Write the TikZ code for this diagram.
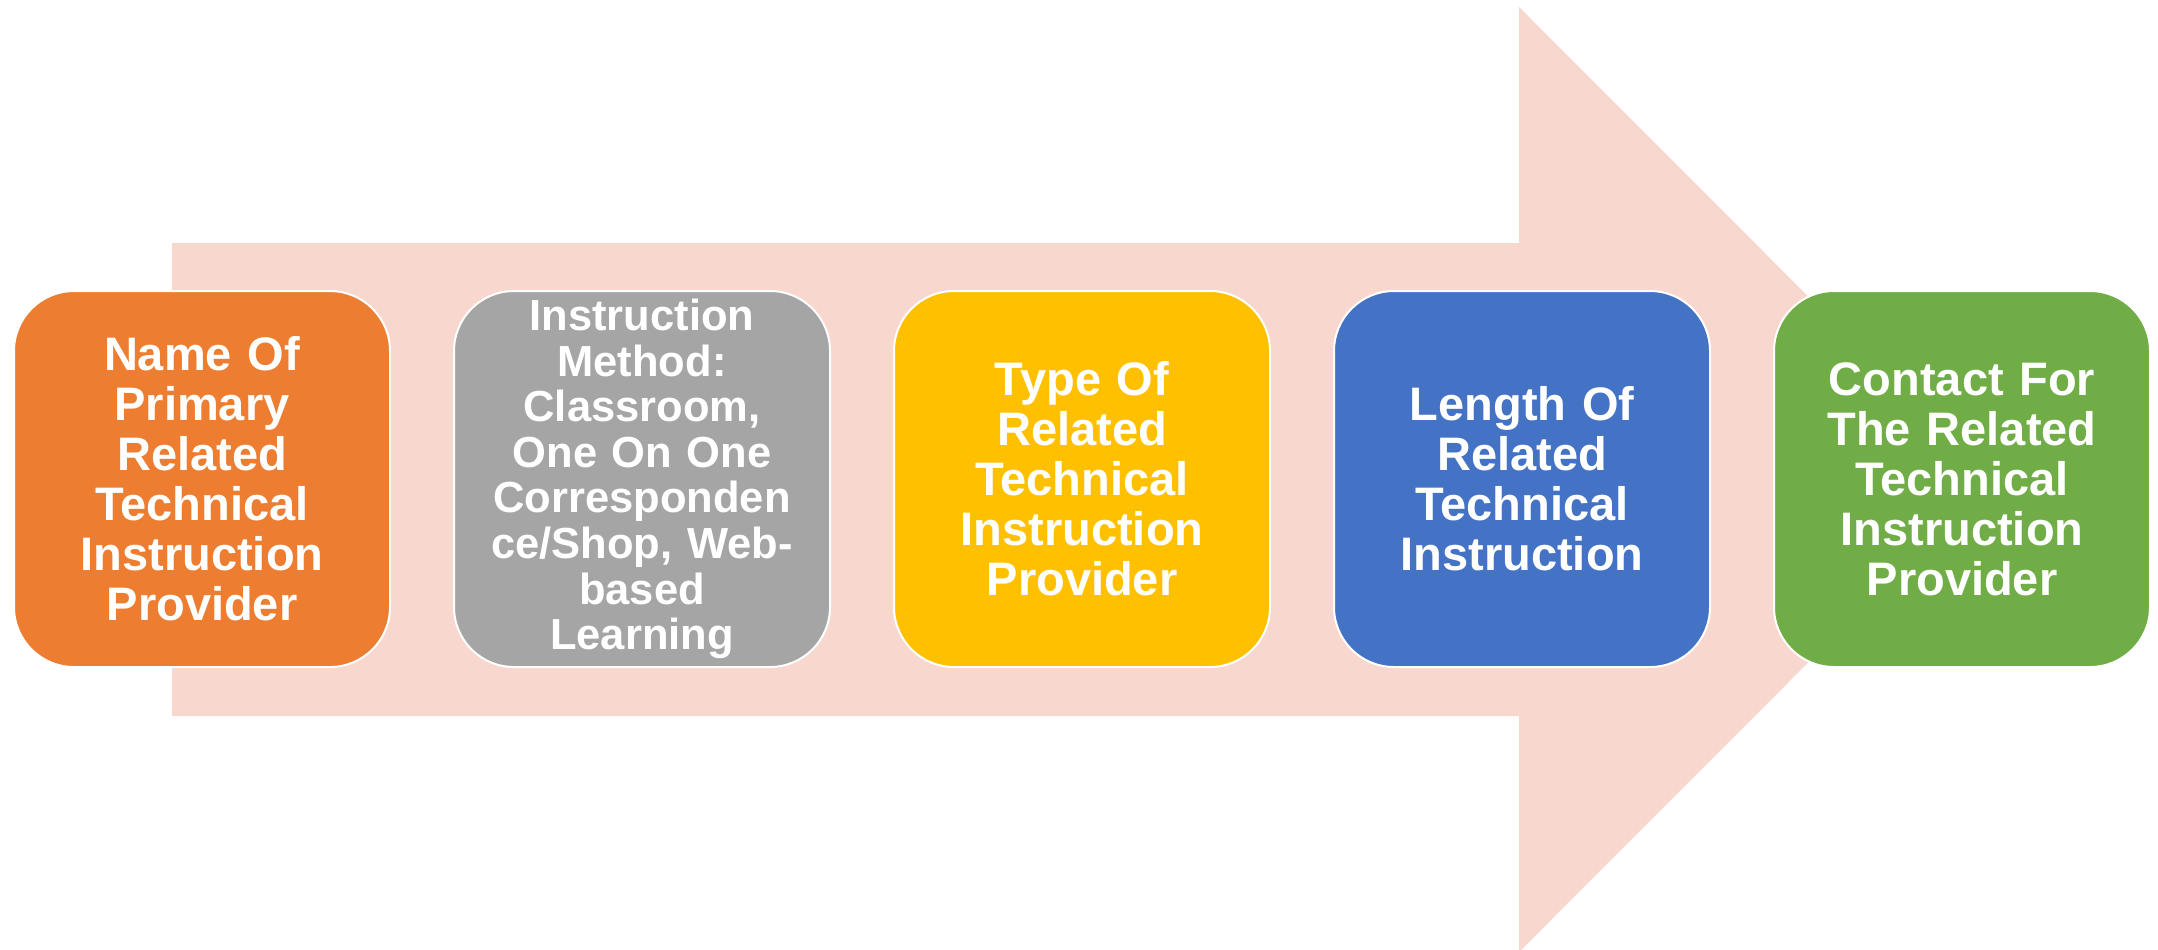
\documentclass[tikz,border=0pt]{standalone}
\usepackage{fontspec}
\setmainfont{Liberation Sans}
\definecolor{arrowpink}{HTML}{F8D8CE}
\definecolor{cOrange}{HTML}{ED7D31}
\definecolor{cGray}{HTML}{A5A5A5}
\definecolor{cYellow}{HTML}{FFC000}
\definecolor{cBlue}{HTML}{4472C4}
\definecolor{cGreen}{HTML}{70AD47}
\tikzset{
  stepbox/.style={draw=white, line width=1pt, rounded corners=30pt,
    minimum width=188pt, minimum height=188pt, inner sep=0pt,
    text=white, align=center, text width=186pt,
    font=\bfseries\fontsize{23.5pt}{25pt}\selectfont},
  smalltext/.style={font=\bfseries\fontsize{21.75pt}{22.8pt}\selectfont}
}
\begin{document}
\begin{tikzpicture}[x=0.5pt,y=-0.5pt]
\useasboundingbox[fill=white] (0,0) rectangle (2158,949);
\fill[arrowpink] (172,243) -- (1519,243) -- (1519,7) -- (1991,479.5) -- (1519,952) -- (1519,716) -- (172,716) -- cycle;
\node[stepbox, fill=cOrange] (b1) at (202,479) {Name Of\\Primary\\Related\\Technical\\Instruction\\Provider};
\node[stepbox, fill=cGray, smalltext] (b2) at (642,479) {Instruction\\Method:\\Classroom,\\One On One\\Corresponden\\ce/Shop, Web-\\based\\Learning};
\node[stepbox, fill=cYellow] (b3) at (1082,479) {Type Of\\Related\\Technical\\Instruction\\Provider};
\node[stepbox, fill=cBlue] (b4) at (1522,479) {Length Of\\Related\\Technical\\Instruction};
\node[stepbox, fill=cGreen] (b5) at (1962,479) {Contact For\\The Related\\Technical\\Instruction\\Provider};
\end{tikzpicture}
\end{document}
